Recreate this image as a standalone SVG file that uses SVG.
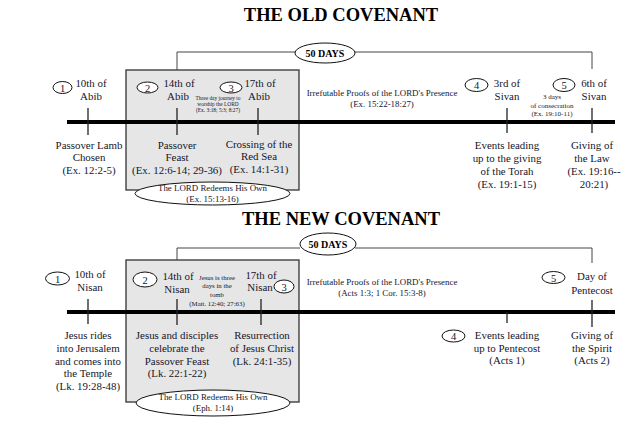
<svg xmlns="http://www.w3.org/2000/svg" width="640" height="445" viewBox="0 0 640 445">
<style>
text{font-family:"Liberation Serif","Times New Roman",serif;fill:#15152b;text-anchor:middle}
.t{font-size:18.5px;font-weight:bold;fill:#000}
.d{font-size:10px;font-weight:bold;fill:#000}
.m{font-size:10.9px}
.s{font-size:8.9px}
.xs{font-size:5.4px}
.xs2{font-size:7px}
.xs3{font-size:6.8px}
.n{font-size:10.5px}
.box{fill:#e6e6e6;stroke:#333;stroke-width:1.3}
.tl{stroke:#000;stroke-width:4}
.tk{stroke:#222;stroke-width:1.3}
.br{fill:none;stroke:#444;stroke-width:1}
.el{fill:#fff;stroke:#111;stroke-width:1}
</style>

<!-- OLD COVENANT -->
<text class="t" x="341" y="21">THE OLD COVENANT</text>
<g id="connectors-old">
<rect class="box" x="126" y="70" width="173" height="120"/>
<polyline class="br" points="177,70 177,52 296,52"/>
<polyline class="br" points="354,52 592,52 592,69"/>
<line class="tl" x1="67" y1="122" x2="615" y2="122"/>
<line class="tk" x1="88" y1="108" x2="88" y2="135"/>
<line class="tk" x1="177" y1="108" x2="177" y2="135"/>
<line class="tk" x1="258" y1="108" x2="258" y2="135"/>
<line class="tk" x1="507" y1="108" x2="507" y2="133"/>
<line class="tk" x1="592" y1="108" x2="592" y2="133"/>
</g>
<g id="old-50days"><ellipse class="el" cx="325" cy="53" rx="30" ry="10"/><text class="d" x="325" y="57">50 DAYS</text></g>
<g id="old-1">
<ellipse class="el" cx="62.5" cy="87.5" rx="9.5" ry="6"/><text class="n" x="62.5" y="91.5">1</text>
<text class="m" x="91" y="87">10th of</text><text class="m" x="91" y="100">Abib</text>
<text class="m" x="89" y="149">Passover Lamb</text><text class="m" x="89" y="161">Chosen</text><text class="m" x="89" y="174">(Ex. 12:2-5)</text>
</g>
<g id="old-2">
<ellipse class="el" cx="147.5" cy="87.5" rx="10.5" ry="5.5"/><text class="n" x="147.5" y="91.5">2</text>
<text class="m" x="179" y="87">14th of</text><text class="m" x="178" y="100">Abib</text>
<text class="m" x="177" y="149">Passover</text><text class="m" x="177" y="161">Feast</text><text class="m" x="177" y="174">(Ex. 12:6-14; 29-36)</text>
</g>
<g id="old-journey">
<text class="xs" x="218" y="100">Three day journey to</text><text class="xs" x="218" y="105.5">worship the LORD</text><text class="xs" x="218" y="111.5">(Ex. 3:18; 5:3; 8:27)</text>
</g>
<g id="old-3">
<ellipse class="el" cx="231" cy="87.5" rx="11" ry="5.5"/><text class="n" x="231" y="91.5">3</text>
<text class="m" x="260" y="87">17th of</text><text class="m" x="259" y="100">Abib</text>
<text class="m" x="259" y="148">Crossing of the</text><text class="m" x="259" y="160">Red Sea</text><text class="m" x="259" y="173">(Ex. 14:1-31)</text>
</g>
<g id="old-redeems">
<ellipse class="el" cx="212.5" cy="193.5" rx="77.5" ry="11.5"/>
<text class="s" x="212.5" y="191">The LORD Redeems His Own</text><text class="s" x="212.5" y="201.5">(Ex. 15:13-16)</text>
</g>
<g id="old-proofs">
<text class="s" x="382" y="96">Irrefutable Proofs of the LORD's Presence</text><text class="s" x="382" y="107">(Ex. 15:22-18:27)</text>
</g>
<g id="old-4">
<ellipse class="el" cx="476.5" cy="85" rx="11.5" ry="6.5"/><text class="n" x="476.5" y="89">4</text>
<text class="m" x="507" y="87">3rd of</text><text class="m" x="507" y="100">Sivan</text>
<text class="m" x="507" y="149">Events leading</text><text class="m" x="507" y="162">up to the giving</text><text class="m" x="507" y="175">of the Torah</text><text class="m" x="507" y="188">(Ex. 19:1-15)</text>
</g>
<g id="old-consecration">
<text class="xs2" x="552" y="99">3 days</text><text class="xs2" x="552" y="107.5">of consecration</text><text class="xs2" x="552" y="116">(Ex. 19:10-11)</text>
</g>
<g id="old-5">
<ellipse class="el" cx="564" cy="85" rx="11" ry="6.5"/><text class="n" x="564" y="89">5</text>
<text class="m" x="594" y="87">6th of</text><text class="m" x="594" y="100">Sivan</text>
<text class="m" x="592" y="149">Giving of</text><text class="m" x="592" y="162">the Law</text><text class="m" x="594" y="175">(Ex. 19:16--</text><text class="m" x="594" y="188">20:21)</text>
</g>

<!-- NEW COVENANT -->
<text class="t" x="341" y="225">THE NEW COVENANT</text>
<g id="connectors-new">
<rect class="box" x="126" y="260" width="173" height="142"/>
<polyline class="br" points="177,260 177,248 300,248"/>
<polyline class="br" points="355,248 592,248 592,263"/>
<line class="tl" x1="67" y1="312" x2="615" y2="312"/>
<line class="tk" x1="88" y1="299" x2="88" y2="324"/>
<line class="tk" x1="177" y1="299" x2="177" y2="325"/>
<line class="tk" x1="261" y1="299" x2="261" y2="325"/>
<line class="tk" x1="507" y1="312" x2="507" y2="323"/>
<line class="tk" x1="592" y1="300" x2="592" y2="327"/>
</g>
<g id="new-50days"><ellipse class="el" cx="328" cy="244" rx="28" ry="11"/><text class="d" x="328" y="248">50 DAYS</text></g>
<g id="new-1">
<ellipse class="el" cx="57.5" cy="278.5" rx="12" ry="6.5"/><text class="n" x="57.5" y="282.5">1</text>
<text class="m" x="90" y="278">10th of</text><text class="m" x="90" y="291">Nisan</text>
<text class="m" x="88" y="339">Jesus rides</text><text class="m" x="88" y="352">into Jerusalem</text><text class="m" x="88" y="365">and comes into</text><text class="m" x="88" y="377">the Temple</text><text class="m" x="88" y="390">(Lk. 19:28-48)</text>
</g>
<g id="new-2">
<ellipse class="el" cx="145" cy="279.5" rx="12" ry="7.5"/><text class="n" x="145" y="283.5">2</text>
<text class="m" x="178" y="280">14th of</text><text class="m" x="177" y="293">Nisan</text>
<text class="m" x="177" y="339">Jesus and disciples</text><text class="m" x="177" y="352">celebrate the</text><text class="m" x="177" y="365">Passover Feast</text><text class="m" x="177" y="377">(Lk. 22:1-22)</text>
</g>
<g id="new-tomb">
<text class="xs3" x="217" y="280">Jesus is three</text><text class="xs3" x="217" y="288">days  in the</text><text class="xs3" x="217" y="297">tomb</text><text class="xs3" x="217" y="306">(Matt. 12:40; 27:63)</text>
</g>
<g id="new-3">
<ellipse class="el" cx="284" cy="286.5" rx="10" ry="6.5"/><text class="n" x="284" y="290.5">3</text>
<text class="m" x="261" y="279">17th of</text><text class="m" x="260" y="291">Nisan</text>
<text class="m" x="262" y="339">Resurrection</text><text class="m" x="262" y="352">of Jesus Christ</text><text class="m" x="262" y="365">(Lk. 24:1-35)</text>
</g>
<g id="new-redeems">
<ellipse class="el" cx="213" cy="403" rx="77" ry="13"/>
<text class="s" x="213" y="400">The LORD Redeems His Own</text><text class="s" x="213" y="411">(Eph. 1:14)</text>
</g>
<g id="new-proofs">
<text class="s" x="382" y="285">Irrefutable Proofs of the LORD's Presence</text><text class="s" x="382" y="296">(Acts 1:3; 1 Cor. 15:3-8)</text>
</g>
<g id="new-4">
<ellipse class="el" cx="453.5" cy="336" rx="11.5" ry="6"/><text class="n" x="453.5" y="340">4</text>
<text class="m" x="507" y="339">Events leading</text><text class="m" x="507" y="352">up to Pentecost</text><text class="m" x="507" y="364">(Acts 1)</text>
</g>
<g id="new-5">
<ellipse class="el" cx="553.5" cy="277.5" rx="11.5" ry="6"/><text class="n" x="553.5" y="281.5">5</text>
<text class="m" x="592" y="280">Day of</text><text class="m" x="592" y="294">Pentecost</text>
<text class="m" x="592" y="339">Giving of</text><text class="m" x="592" y="352">the Spirit</text><text class="m" x="592" y="364">(Acts 2)</text>
</g>
</svg>
